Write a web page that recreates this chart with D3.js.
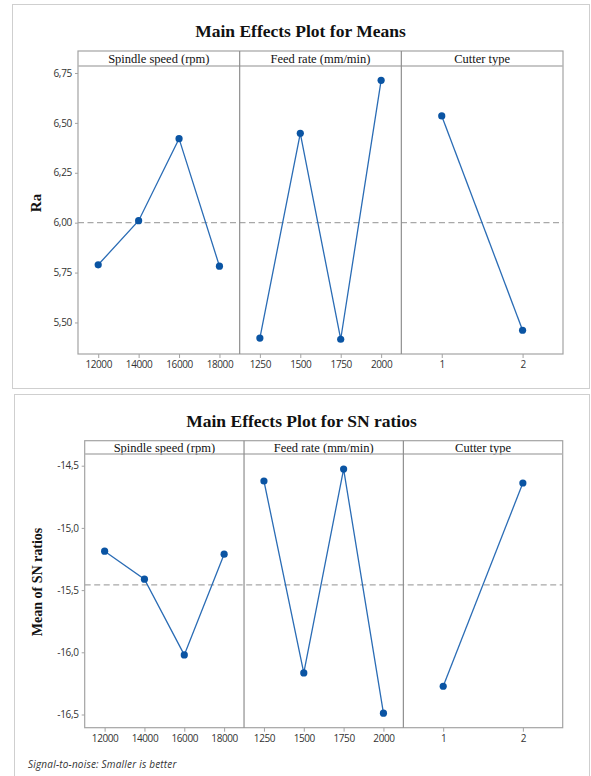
<!DOCTYPE html>
<html>
<head>
<meta charset="utf-8">
<script src="https://cdn.jsdelivr.net/npm/d3@7"></script>
<style>
  html, body { margin: 0; padding: 0; background: #fff; }
  svg { display: block; }
</style>
</head>
<body>
<svg id="chart" width="591" height="776"></svg>
<script>
// Factor levels
const spindleLevels = [12000, 14000, 16000, 18000];
const feedLevels = [1250, 1500, 1750, 2000];
const cutterLevels = [1, 2];
const panelTitles = ["Spindle speed (rpm)", "Feed rate (mm/min)", "Cutter type"];

// Means of Ra per level
const raSpindle = [5.789, 6.010, 6.421, 5.782];
const raFeed = [5.422, 6.448, 5.416, 6.713];
const raCutter = [6.535, 5.461];
const raTicks = [5.50, 5.75, 6.00, 6.25, 6.50, 6.75];

// Means of SN ratios per level
const snSpindle = [-15.187, -15.412, -16.021, -15.211];
const snFeed = [-14.623, -16.166, -14.527, -16.489];
const snCutter = [-16.273, -14.639];
const snTicks = [-16.5, -16.0, -15.5, -15.0, -14.5];

const svg = d3.select("#chart");
const BLUE_LINE = "#2a6cb5";
const BLUE_PT = "#0a54a3";
const GRID = "#a3a3a3";

function drawMainEffects(cfg) {
  const g = svg.append("g");
  // outer frame
  g.append("rect")
    .attr("x", cfg.frame[0] + 0.5).attr("y", cfg.frame[1] + 0.5)
    .attr("width", cfg.frame[2] - cfg.frame[0]).attr("height", cfg.frame[3] - cfg.frame[1])
    .attr("fill", "none").attr("stroke", "#cfcfcf").attr("stroke-width", 1);

  // title, centred on the frame
  g.append("text")
    .attr("x", (cfg.frame[0] + cfg.frame[2]) / 2).attr("y", cfg.titleY)
    .attr("text-anchor", "middle")
    .attr("font-family", "Liberation Serif, Times New Roman, serif")
    .attr("font-weight", "bold").attr("font-size", 17.5)
    .attr("fill", "#111")
    .text(cfg.title);

  const y = d3.scaleLinear().domain(cfg.yDomain).range([cfg.bottom, cfg.stripBottom]);
  const pw = (cfg.right - cfg.left) / 3;

  // y axis
  const yAxis = d3.axisLeft(y).tickValues(cfg.yTicks).tickSize(3).tickPadding(3)
    .tickFormat(cfg.yFormat);
  const ya = g.append("g").attr("transform", `translate(${cfg.left},0)`).call(yAxis);
  ya.select(".domain").remove();
  ya.selectAll(".tick line").attr("stroke", GRID);
  ya.selectAll(".tick text")
    .attr("font-family", "Open Sans, Noto Sans, sans-serif")
    .attr("font-size", 10).attr("fill", "#333").attr("letter-spacing", -0.3);

  // y label
  g.append("text")
    .attr("transform", `translate(${cfg.yLabelX},${cfg.yLabelY}) rotate(-90)`)
    .attr("text-anchor", "middle")
    .attr("font-family", "Liberation Serif, Times New Roman, serif")
    .attr("font-weight", "bold").attr("font-size", cfg.yLabelSize)
    .attr("fill", "#111")
    .text(cfg.yLabel);

  // grand-mean reference line
  const mean = d3.mean(cfg.series[0]);
  g.append("line")
    .attr("x1", cfg.left).attr("x2", cfg.right)
    .attr("y1", y(mean)).attr("y2", y(mean))
    .attr("stroke", "#a8a8a8").attr("stroke-width", 1.2)
    .attr("stroke-dasharray", "6,3.5");

  const domains = [[11000, 19000], [1125, 2125], [0.5, 2.5]];
  const levels = [spindleLevels, feedLevels, cutterLevels];

  for (let i = 0; i < 3; i++) {
    const x0 = cfg.left + i * pw;
    const x = d3.scaleLinear().domain(domains[i]).range([x0, x0 + pw]);
    const pts = levels[i].map((lv, k) => [x(lv), y(cfg.series[i][k])]);

    // x axis
    const xa = g.append("g").attr("transform", `translate(0,${cfg.bottom})`)
      .call(d3.axisBottom(x).tickValues(levels[i]).tickSize(4).tickPadding(3).tickFormat(d3.format("d")));
    xa.select(".domain").remove();
    xa.selectAll(".tick line").attr("stroke", GRID);
    xa.selectAll(".tick text")
      .attr("font-family", "Open Sans, Noto Sans, sans-serif")
      .attr("font-size", 10).attr("fill", "#333").attr("letter-spacing", -0.4);

    // strip label
    g.append("text")
      .attr("x", x0 + pw / 2).attr("y", cfg.stripTop + (cfg.stripBottom - cfg.stripTop) / 2 + 4.5)
      .attr("text-anchor", "middle")
      .attr("font-family", "Liberation Serif, Times New Roman, serif")
      .attr("font-size", 12.5).attr("fill", "#111")
      .text(panelTitles[i]);

    // effect line and points
    g.append("path")
      .attr("d", d3.line()(pts))
      .attr("fill", "none").attr("stroke", BLUE_LINE).attr("stroke-width", 1.3);
    g.selectAll(null).data(pts).enter().append("circle")
      .attr("cx", d => d[0]).attr("cy", d => d[1]).attr("r", 3.6)
      .attr("fill", BLUE_PT);
  }

  // panel frame
  const fr = g.append("g").attr("stroke", GRID).attr("stroke-width", 1.2).attr("fill", "none");
  fr.append("rect")
    .attr("x", cfg.left).attr("y", cfg.stripTop)
    .attr("width", cfg.right - cfg.left).attr("height", cfg.bottom - cfg.stripTop);
  fr.append("line").attr("x1", cfg.left).attr("x2", cfg.right)
    .attr("y1", cfg.stripBottom).attr("y2", cfg.stripBottom).attr("stroke-width", 1.6).attr("stroke", "#b5b5b5");
  for (let i = 1; i < 3; i++) {
    fr.append("line").attr("x1", cfg.left + i * pw).attr("x2", cfg.left + i * pw)
      .attr("y1", cfg.stripTop).attr("y2", cfg.bottom).attr("stroke", "#8f8f8f");
  }
}

const commaFmt = (digits) => d => d3.format("." + digits + "f")(d).replace(".", ",");

drawMainEffects({
  frame: [12, 4, 589, 388],
  title: "Main Effects Plot for Means",
  titleY: 37,
  left: 78, right: 563, stripTop: 51, stripBottom: 66, bottom: 354,
  yDomain: [5.342, 6.785],
  yTicks: raTicks,
  yFormat: commaFmt(2),
  yLabel: "Ra",
  yLabelSize: 15,
  yLabelX: 41, yLabelY: 203,
  series: [raSpindle, raFeed, raCutter]
});

drawMainEffects({
  frame: [14, 394, 589, 790],
  title: "Main Effects Plot for SN ratios",
  titleY: 427,
  left: 84.7, right: 562.7, stripTop: 440.7, stripBottom: 454, bottom: 727.7,
  yDomain: [-16.606, -14.406],
  yTicks: snTicks,
  yFormat: d => d3.format(".1f")(d).replace(".", ",").replace("−", "-"),
  yLabel: "Mean of SN ratios",
  yLabelSize: 14,
  yLabelX: 42, yLabelY: 582,
  series: [snSpindle, snFeed, snCutter]
});

// footnote
svg.append("text")
  .attr("x", 28).attr("y", 768)
  .attr("font-family", "Open Sans, Noto Sans, sans-serif")
  .attr("font-style", "italic").attr("font-size", 10).attr("fill", "#333")
  .attr("letter-spacing", 0.2)
  .text("Signal-to-noise: Smaller is better");
</script>
</body>
</html>
